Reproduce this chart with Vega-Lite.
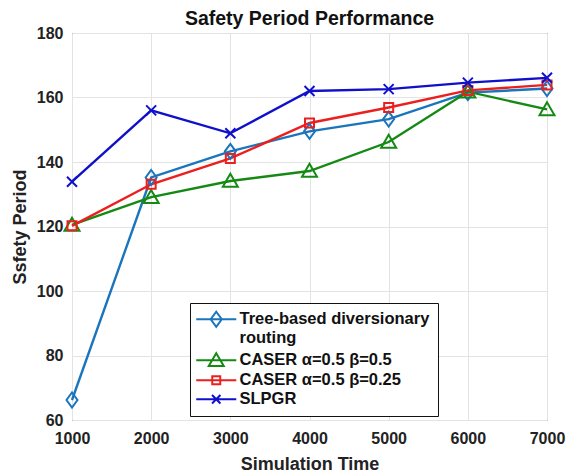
{
  "$schema": "https://vega.github.io/schema/vega-lite/v6.json",
  "width": 475,
  "height": 387,
  "autosize": {"type": "none"},
  "padding": {"left": 72, "top": 33, "right": 21, "bottom": 53},
  "background": "white",
  "title": {
    "text": "Safety Period Performance",
    "font": "Liberation Sans",
    "fontSize": 19.5,
    "fontWeight": "bold",
    "color": "#111111",
    "offset": -4
  },
  "config": {
    "view": {"stroke": "#262626", "strokeWidth": 1},
    "axis": {
      "labelFont": "Liberation Sans",
      "labelFontSize": 16,
      "labelFontWeight": "bold",
      "labelColor": "#222222",
      "titleFont": "Liberation Sans",
      "titleFontSize": 18,
      "titleFontWeight": "bold",
      "titleColor": "#222222",
      "grid": true,
      "gridColor": "#e3e3e3",
      "gridWidth": 1,
      "ticks": false,
      "domain": false
    }
  },
  "data": {
    "values": [
      {"time": 1000, "period": 66.2, "method": "Tree-based diversionary routing"},
      {"time": 2000, "period": 135.2, "method": "Tree-based diversionary routing"},
      {"time": 3000, "period": 143.3, "method": "Tree-based diversionary routing"},
      {"time": 4000, "period": 149.5, "method": "Tree-based diversionary routing"},
      {"time": 5000, "period": 153.3, "method": "Tree-based diversionary routing"},
      {"time": 6000, "period": 161.5, "method": "Tree-based diversionary routing"},
      {"time": 7000, "period": 162.8, "method": "Tree-based diversionary routing"},
      {"time": 1000, "period": 120.5, "method": "CASER α=0.5 β=0.5"},
      {"time": 2000, "period": 129.1, "method": "CASER α=0.5 β=0.5"},
      {"time": 3000, "period": 134.1, "method": "CASER α=0.5 β=0.5"},
      {"time": 4000, "period": 137.2, "method": "CASER α=0.5 β=0.5"},
      {"time": 5000, "period": 146.2, "method": "CASER α=0.5 β=0.5"},
      {"time": 6000, "period": 161.8, "method": "CASER α=0.5 β=0.5"},
      {"time": 7000, "period": 156.3, "method": "CASER α=0.5 β=0.5"},
      {"time": 1000, "period": 120.2, "method": "CASER  α=0.5 β=0.25"},
      {"time": 2000, "period": 133.1, "method": "CASER  α=0.5 β=0.25"},
      {"time": 3000, "period": 141.1, "method": "CASER  α=0.5 β=0.25"},
      {"time": 4000, "period": 152.1, "method": "CASER  α=0.5 β=0.25"},
      {"time": 5000, "period": 156.9, "method": "CASER  α=0.5 β=0.25"},
      {"time": 6000, "period": 162.2, "method": "CASER  α=0.5 β=0.25"},
      {"time": 7000, "period": 163.9, "method": "CASER  α=0.5 β=0.25"},
      {"time": 1000, "period": 133.9, "method": "SLPGR"},
      {"time": 2000, "period": 156.0, "method": "SLPGR"},
      {"time": 3000, "period": 148.9, "method": "SLPGR"},
      {"time": 4000, "period": 162.0, "method": "SLPGR"},
      {"time": 5000, "period": 162.6, "method": "SLPGR"},
      {"time": 6000, "period": 164.6, "method": "SLPGR"},
      {"time": 7000, "period": 166.1, "method": "SLPGR"}
    ]
  },
  "encoding": {
    "x": {
      "field": "time",
      "type": "quantitative",
      "scale": {"domain": [1000, 7000], "nice": false, "zero": false},
      "axis": {"values": [1000, 2000, 3000, 4000, 5000, 6000, 7000], "format": "d", "title": "Simulation Time", "labelPadding": 10, "titlePadding": 9, "labelFlush": false}
    },
    "y": {
      "field": "period",
      "type": "quantitative",
      "scale": {"domain": [60, 180], "nice": false, "zero": false},
      "axis": {"values": [60, 80, 100, 120, 140, 160, 180], "title": "Ssfety Period", "labelPadding": 9, "titlePadding": 7}
    }
  },
  "layer": [
    {
      "mark": {"type": "line", "strokeWidth": 2.4},
      "encoding": {
        "color": {
          "field": "method",
          "type": "nominal",
          "scale": {
            "domain": ["Tree-based diversionary routing", "CASER α=0.5 β=0.5", "CASER  α=0.5 β=0.25", "SLPGR"],
            "range": ["#1a75bc", "#148a14", "#ec1f1f", "#1010cc"]
          },
          "legend": {
            "title": null,
            "orient": "none",
            "legendX": 118,
            "legendY": 270,
            "direction": "vertical",
            "fillColor": "white",
            "strokeColor": "#111111",
            "padding": 8,
            "symbolSize": 196,
            "symbolOffset": 10,
            "symbolStrokeWidth": 2,
            "symbolFillColor": "transparent",
            "symbolType": {"expr": "datum.value === 'SLPGR' ? 'M-2.86,0H2.86M-0.6,-0.6L0.6,0.6M-0.6,0.6L0.6,-0.6' : datum.value === 'CASER  α=0.5 β=0.25' ? 'M-2.86,0H2.86M-0.57,-0.57H0.57V0.57H-0.57Z' : datum.value === 'CASER α=0.5 β=0.5' ? 'M-2.86,0H2.86M0,-1L1.07,0.82L-1.07,0.82Z' : 'M-2.86,0H2.86M0,-1.07L0.79,0L0,1.07L-0.79,0Z'"},
            "labelFont": "Liberation Sans",
            "labelFontSize": 16.5,
            "labelFontWeight": "bold",
            "labelColor": "#111111",
            "labelLimit": 400,
            "labelOffset": 15,
            "rowPadding": 2,
            "labelExpr": "datum.label === 'Tree-based diversionary routing' ? ['Tree-based diversionary', ' routing'] : datum.label"
          }
        }
      }
    },
    {
      "mark": {"type": "point", "filled": false, "strokeWidth": 2, "size": 100, "opacity": 1},
      "encoding": {
        "color": {"field": "method", "type": "nominal", "legend": null},
        "shape": {
          "field": "method",
          "type": "nominal",
          "scale": {
            "domain": ["SLPGR", "CASER  α=0.5 β=0.25", "CASER α=0.5 β=0.5", "Tree-based diversionary routing"],
            "range": ["M-1,-1L1,1M-1,1L1,-1", "M-0.9,-0.9H0.9V0.9H-0.9Z", "M0,-1.45L1.5,1.15L-1.5,1.15Z", "M0,-1.5L1.1,0L0,1.5L-1.1,0Z"]
          },
          "legend": null
        }
      }
    }
  ]
}
